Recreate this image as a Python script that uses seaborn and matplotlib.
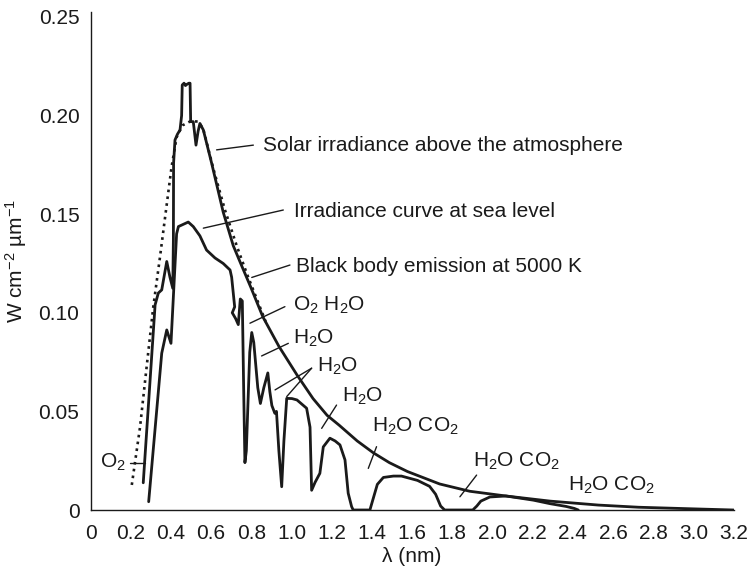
import matplotlib
matplotlib.use("Agg")
import matplotlib.pyplot as plt
import seaborn as sns
import pandas as pd

# ---------------- data ----------------
# Black body emission at 5000 K (dotted)
bb_x = [0.205, 0.246, 0.279, 0.312, 0.345, 0.379, 0.403, 0.428, 0.457, 0.495,
        0.536, 0.561, 0.611, 0.669, 0.727, 0.777, 0.827, 0.877]
bb_y = [0.0127, 0.042, 0.0727, 0.103, 0.128, 0.155, 0.174, 0.189, 0.195, 0.197,
        0.197, 0.193, 0.173, 0.152, 0.134, 0.120, 0.107, 0.094]

# Solar irradiance above the atmosphere
sol_x = [0.262, 0.287, 0.321, 0.337, 0.354, 0.379, 0.395, 0.409, 0.412, 0.413,
         0.42, 0.432, 0.445, 0.453, 0.456, 0.465, 0.472, 0.479, 0.489, 0.495,
         0.498, 0.511, 0.5245, 0.535, 0.544, 0.561, 0.602, 0.66, 0.71, 0.747,
         0.797, 0.857, 0.937, 1.027, 1.107, 1.177, 1.237, 1.327, 1.407, 1.487,
         1.577, 1.737, 1.887, 2.067, 2.287, 2.527, 2.727, 3.027, 3.2]
sol_y = [0.0138, 0.052, 0.104, 0.110, 0.1116, 0.126, 0.118, 0.1124, 0.137, 0.176,
         0.1876, 0.1905, 0.1927, 0.200, 0.2155, 0.2164, 0.2152, 0.2158, 0.2164, 0.2164,
         0.1969, 0.1969, 0.185, 0.192, 0.196, 0.1927, 0.176, 0.151, 0.134, 0.125,
         0.113, 0.098, 0.083, 0.0685, 0.0565, 0.048, 0.043, 0.035, 0.029, 0.024,
         0.0195, 0.0132, 0.0095, 0.0071, 0.0045, 0.0025, 0.0014, 0.0005, 0.0]

# Irradiance curve at sea level
sea_x = [0.289, 0.354, 0.379, 0.4, 0.428, 0.437, 0.486, 0.511, 0.544, 0.577,
         0.619, 0.66, 0.694, 0.702, 0.71, 0.717, 0.705, 0.722, 0.735, 0.745,
         0.755, 0.762, 0.768, 0.775, 0.792, 0.802, 0.812, 0.832, 0.845, 0.862,
         0.882, 0.892, 0.902, 0.917, 0.925, 0.937, 0.951, 0.962, 0.976, 1.002,
         1.027, 1.075, 1.092, 1.1, 1.117, 1.141, 1.158, 1.191, 1.217, 1.241,
         1.266, 1.282, 1.299, 1.307, 1.39, 1.407, 1.427, 1.457, 1.507, 1.547,
         1.627, 1.687, 1.717, 1.742, 1.762, 1.902, 1.922, 1.942, 1.987, 2.067,
         2.203, 2.287, 2.367, 2.407, 2.427]
sea_y = [0.0042, 0.0795, 0.0913, 0.0845, 0.140, 0.1437, 0.146, 0.1437, 0.139, 0.1318,
         0.1278, 0.125, 0.1217, 0.118, 0.110, 0.103, 0.100, 0.097, 0.094, 0.107,
         0.106, 0.060, 0.024, 0.030, 0.080, 0.090, 0.085, 0.062, 0.054, 0.062,
         0.0695, 0.060, 0.053, 0.049, 0.050, 0.030, 0.0118, 0.035, 0.0566, 0.0565,
         0.0558, 0.0516, 0.042, 0.010, 0.014, 0.0186, 0.032, 0.0364, 0.035, 0.033,
         0.0254, 0.0085, 0.0017, 0.0, 0.0, 0.006, 0.013, 0.0165, 0.0172, 0.0172,
         0.015, 0.012, 0.008, 0.002, 0.0, 0.0, 0.002, 0.0045, 0.0066, 0.0071,
         0.005, 0.0032, 0.0018, 0.0008, 0.0]

x_ticks = [0, 0.2, 0.4, 0.6, 0.8, 1.0, 1.2, 1.4, 1.6, 1.8, 2.0, 2.2, 2.4, 2.6, 2.8, 3.0, 3.2]
x_tick_labels = ["0", "0.2", "0.4", "0.6", "0.8", "1.0", "1.2", "1.4", "1.6", "1.8",
                 "2.0", "2.2", "2.4", "2.6", "2.8", "3.0", "3.2"]
y_ticks = [0, 0.05, 0.10, 0.15, 0.20, 0.25]
y_tick_labels = ["0", "0.05", "0.10", "0.15", "0.20", "0.25"]

# annotations: text, text x, text y, list of leader lines ((x0,y0),(x1,y1))
annotations = [
    ("Solar irradiance above the atmosphere", 0.858, 0.185, [((0.627, 0.1826), (0.810, 0.185))]),
    ("Irradiance curve at sea level", 1.012, 0.1516, [((0.561, 0.1429), (0.959, 0.1521))]),
    ("Black body emission at 5000 K", 1.022, 0.1237, [((0.802, 0.1179), (0.992, 0.1242))]),
    ("O$_2$ H$_2$O", 1.007, 0.104, [((0.793, 0.0947), (0.967, 0.1031))]),
    ("H$_2$O", 1.007, 0.0872, [((0.851, 0.0781), (0.984, 0.0845))]),
    ("H$_2$O", 1.125, 0.073, [((1.100, 0.0719), (0.918, 0.0609)),
                             ((1.100, 0.0719), (0.976, 0.0575))]),
    ("H$_2$O", 1.249, 0.0578, [((1.224, 0.0532), (1.150, 0.0414))]),
    ("H$_2$O CO$_2$", 1.399, 0.0426, [((1.423, 0.0321), (1.382, 0.0211))]),
    ("H$_2$O CO$_2$", 1.904, 0.0248, [((1.921, 0.0177), (1.838, 0.0067))]),
    ("H$_2$O CO$_2$", 2.377, 0.0127, []),
    ("O$_2$", 0.047, 0.0243, [((0.196, 0.024), (0.271, 0.024))]),
]

# ---------------- style ----------------
sns.set_theme(style="white")
plt.rcParams["font.family"] = ["Liberation Sans", "DejaVu Sans"]
plt.rcParams["mathtext.fontset"] = "custom"
plt.rcParams["mathtext.rm"] = "Liberation Sans"
plt.rcParams["mathtext.it"] = "Liberation Sans:italic"
plt.rcParams["mathtext.bf"] = "Liberation Sans:bold"
plt.rcParams["mathtext.default"] = "regular"

INK = "#1a1a1a"
FS = 15

fig = plt.figure(figsize=(7.52, 5.76), dpi=100)
ax = fig.add_axes([90.6 / 752, 1 - 510 / 576, (733.6 - 90.6) / 752, (510 - 12) / 576])

bb_df = pd.DataFrame({"x": bb_x, "y": bb_y})
sol_df = pd.DataFrame({"x": sol_x, "y": sol_y})
sea_df = pd.DataFrame({"x": sea_x, "y": sea_y})

sns.lineplot(data=bb_df, x="x", y="y", sort=False, ax=ax, color=INK,
             linestyle=(0, (1, 1.6)), linewidth=1.9, estimator=None)
sns.lineplot(data=sol_df, x="x", y="y", sort=False, ax=ax, color=INK,
             linewidth=2.0, estimator=None)
sns.lineplot(data=sea_df, x="x", y="y", sort=False, ax=ax, color=INK,
             linewidth=2.0, estimator=None)

for text, tx, ty, leaders in annotations:
    ax.text(tx, ty, text, fontsize=FS, color=INK, ha="left", va="center")
    for (x0, y0), (x1, y1) in leaders:
        ax.plot([x0, x1], [y0, y1], color=INK, linewidth=1.0)

ax.set_xlim(0, 3.2)
ax.set_ylim(0, 0.2525)
ax.set_xticks(x_ticks)
ax.set_xticklabels(x_tick_labels)
ax.set_yticks(y_ticks)
ax.set_yticklabels(y_tick_labels)
ax.tick_params(axis="both", length=0, labelsize=FS, colors=INK)
ax.tick_params(axis="x", pad=10)
ax.tick_params(axis="y", pad=8)

for side in ["top", "right"]:
    ax.spines[side].set_visible(False)
for side in ["left", "bottom"]:
    ax.spines[side].set_color(INK)
    ax.spines[side].set_linewidth(1.0)

ax.set_xlabel("λ (nm)", fontsize=FS, color=INK, labelpad=3)
ax.set_ylabel("W cm$^{-2}$ µm$^{-1}$", fontsize=FS, color=INK, labelpad=7)
ax.grid(False)

fig.savefig("out.png", dpi=100)
